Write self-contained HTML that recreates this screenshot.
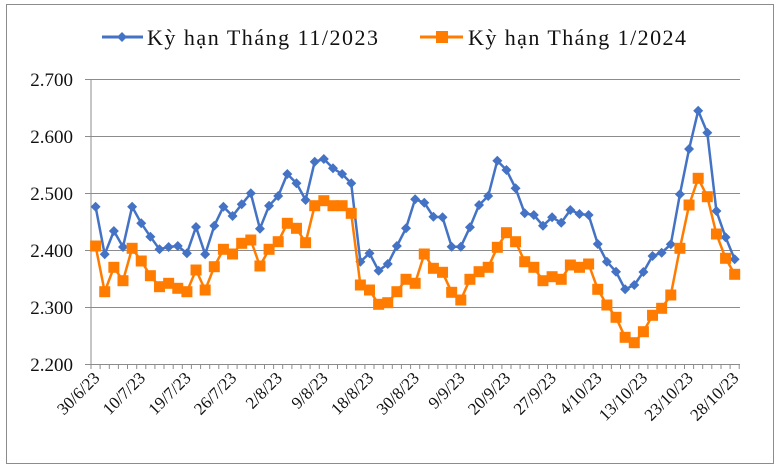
<!DOCTYPE html>
<html><head><meta charset="utf-8"><style>
html,body{margin:0;padding:0;background:#fff;}
svg{display:block;font-family:"Liberation Serif",serif;}
</style></head><body>
<svg id="c" width="779" height="470" xmlns="http://www.w3.org/2000/svg">
<rect x="6.5" y="4.5" width="767" height="459" fill="#fff" stroke="#8c8c8c" stroke-width="1"/>
<g stroke="#8c8c8c" stroke-width="1">
<line x1="85" y1="79.5" x2="740" y2="79.5"/>
<line x1="85" y1="136.5" x2="740" y2="136.5"/>
<line x1="85" y1="193.5" x2="740" y2="193.5"/>
<line x1="85" y1="250.5" x2="740" y2="250.5"/>
<line x1="85" y1="307.5" x2="740" y2="307.5"/>
<line x1="85" y1="364.5" x2="740" y2="364.5"/>
<line x1="91" y1="79" x2="91" y2="365"/>
</g>
<g id="ticks" stroke="#8c8c8c" stroke-width="1"></g>
<g font-size="19" fill="#111" text-anchor="end">
<text x="73" y="86">2.700</text>
<text x="73" y="143">2.600</text>
<text x="73" y="200">2.500</text>
<text x="73" y="257">2.400</text>
<text x="73" y="314">2.300</text>
<text x="73" y="371">2.200</text>
</g>
<g id="xl" font-size="17" fill="#111" text-anchor="end"></g>
<g id="series"></g>
<line x1="102" y1="37" x2="143" y2="37" stroke="#4472c4" stroke-width="3"/>
<path d="M122 32 L127 37 L122 42 L117 37Z" fill="#4472c4"/>
<text x="147" y="45" font-size="22" fill="#111" textLength="231">Kỳ hạn Tháng 11/2023</text>
<line x1="420" y1="37" x2="463" y2="37" stroke="#ff7c00" stroke-width="3"/>
<rect x="436" y="31" width="12" height="12" fill="#ff7c00"/>
<text x="468" y="45" font-size="22" fill="#111" textLength="218">Kỳ hạn Tháng 1/2024</text>
</svg>
<script>
var blue=[206.7,254.3,231,247,206.7,223.3,236.7,249.3,247,246,253.3,227,254.3,225.7,206.7,216,204.3,193.3,228.7,205.7,196,174,183.3,200,161.7,
159,168.3,174,183.3,261.7,253.3,270.7,264,246,228.3,199.3,202.7,216.7,217.3,246.7,246.7,227.3,205,196,160.7,170,188.3,213.3,
215,225.7,217.3,222.7,210,214,215,244,261.7,271.7,289.3,285,272,256,252.7,244.3,194.3,149,110.7,132.7,211,237.3,259.3];
var org=[246,291.7,267.3,280.7,248.3,261,275.7,286.7,283.3,288.3,291.7,270,290,266.7,249.3,254,243.3,240,266,249.3,241.7,223.3,228.3,242.7,205.7,
200.7,205.7,205.7,213.3,285,290,304.3,302.7,291.7,279.3,283.3,254,268.3,272.3,292.3,300,279.3,271.7,267.3,247.3,232.7,241.7,261.7,
267.3,280.7,276.7,279.3,265,267.3,264,289.3,305,317.3,337.3,342.7,331.7,315.3,308.3,295,248.3,205,178.3,196.7,234,258.3,274.3];
function X(i){return 95.6+9.13*i;}
var s=document.getElementById('series'),h='';
function pts(a){return a.map(function(y,i){return X(i).toFixed(1)+','+y;}).join(' ');}
h+='<polyline points="'+pts(blue)+'" fill="none" stroke="#4472c4" stroke-width="2.5" stroke-linejoin="round"/>';
blue.forEach(function(y,i){var x=X(i);h+='<path d="M'+x+' '+(y-5)+' L'+(x+5)+' '+y+' L'+x+' '+(y+5)+' L'+(x-5)+' '+y+'Z" fill="#4472c4"/>';});
h+='<polyline points="'+pts(org)+'" fill="none" stroke="#ff7c00" stroke-width="2.5" stroke-linejoin="round"/>';
org.forEach(function(y,i){var x=X(i);h+='<rect x="'+(x-5.5)+'" y="'+(y-5.5)+'" width="11" height="11" fill="#ff7c00"/>';});
s.innerHTML=h;
var t='';for(var k=0;k<=71;k++){var x=(91+9.13*k).toFixed(1);t+='<line x1="'+x+'" y1="364" x2="'+x+'" y2="369"/>';}
document.getElementById('ticks').innerHTML=t;
var L=["30/6/23","10/7/23","19/7/23","26/7/23","2/8/23","9/8/23","18/8/23","30/8/23","9/9/23","20/9/23","27/9/23","4/10/23","13/10/23","23/10/23","28/10/23"];
var xl='';L.forEach(function(l,k){var x=X(5*k)+5,y=379;xl+='<text x="'+x+'" y="'+y+'" transform="rotate(-45 '+x+' '+y+')">'+l+'</text>';});
document.getElementById('xl').innerHTML=xl;
</script>
</body></html>
